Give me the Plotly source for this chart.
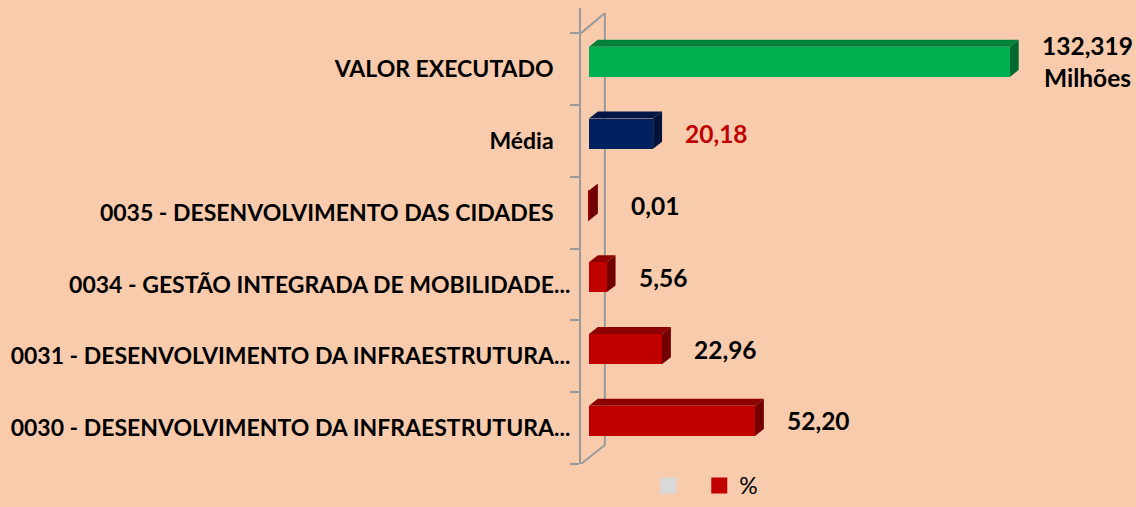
import plotly.graph_objects as go

# data, top to bottom as in the chart
categories = [
    "VALOR EXECUTADO",
    "Média",
    "0035 - DESENVOLVIMENTO DAS CIDADES",
    "0034 - GESTÃO INTEGRADA DE MOBILIDADE...",
    "0031 - DESENVOLVIMENTO DA INFRAESTRUTURA...",
    "0030 - DESENVOLVIMENTO DA INFRAESTRUTURA...",
]
values = [132.319, 20.18, 0.01, 5.56, 22.96, 52.20]
bar_colors = ["#00B050", "#002060", "#C00000", "#C00000", "#C00000", "#C00000"]
label_colors = ["black", "#C00000", "black", "black", "black", "black"]
legend_names = ["", "%"]
legend_colors = ["#D9D9D9", "#C00000"]

BG = "#F8CBAD"
WALL = "#9A9A9A"
FONT = "Lato"

n = len(categories)
pos = [n - 1 - i for i in range(n)]  # top category gets highest y

# excel leaves a gap after labels that were not cut short
tick_text = [c if c.endswith("...") else c + "\u00a0" * 3 for c in categories]

# 3d look in data units
BAR_W = 0.42
BAR_OFF = -0.11
DX = 2.8
DZ = 0.097


def shade(hex_color, k):
    h = hex_color.lstrip("#")
    r, g, b = (int(h[i:i + 2], 16) for i in (0, 2, 4))
    return "#%02x%02x%02x" % (int(r * k), int(g * k), int(b * k))


fig = go.Figure()

fig.add_trace(
    go.Bar(
        x=values,
        y=pos,
        orientation="h",
        width=BAR_W,
        offset=BAR_OFF,
        marker={"color": bar_colors, "line": {"width": 0}},
        showlegend=False,
        hoverinfo="skip",
    )
)

# legend entries only
for name, col in zip(legend_names, legend_colors):
    fig.add_trace(
        go.Scatter(x=[None], y=[None], mode="markers", name=name or " ",
                   marker={"color": col, "symbol": "square", "size": 16})
    )

shapes = []
# back wall line and its floor / ceiling diagonals
x_front, x_back = -2.5, 5.0
y_lo, y_hi = -0.5, n - 0.5
shapes.append(dict(type="line", xref="x", yref="y", x0=x_back, x1=x_back,
                   y0=y_lo + 0.265, y1=y_hi + 0.28,
                   line={"color": WALL, "width": 2}, layer="below"))
shapes.append(dict(type="line", xref="x", yref="y", x0=x_front, x1=x_back,
                   y0=y_hi, y1=y_hi + 0.28,
                   line={"color": WALL, "width": 2}, layer="below"))
shapes.append(dict(type="line", xref="x", yref="y", x0=x_front, x1=x_back,
                   y0=y_lo, y1=y_lo + 0.265,
                   line={"color": WALL, "width": 2}, layer="below"))

# top and side faces of each bar
for p, v, c in zip(pos, values, bar_colors):
    bot = p + BAR_OFF
    top = bot + BAR_W
    shapes.append(dict(
        type="path", xref="x", yref="y", layer="below",
        path=f"M 0 {top} L {DX} {top + DZ} L {v + DX} {top + DZ} L {v} {top} Z",
        fillcolor=shade(c, 0.74), line={"width": 0},
    ))
    shapes.append(dict(
        type="path", xref="x", yref="y", layer="below",
        path=f"M {v} {bot} L {v} {top} L {v + DX} {top + DZ} L {v + DX} {bot + DZ} Z",
        fillcolor=shade(c, 0.6), line={"width": 0},
    ))
fig.update_layout(shapes=shapes)

# value labels
for i, (p, v, col) in enumerate(zip(pos, values, label_colors)):
    if i == 0:
        txt = f"{v:.3f}".replace(".", ",") + "<br>Milhões"
    else:
        txt = f"{v:.2f}".replace(".", ",")
    fig.add_annotation(
        x=v, y=p + BAR_OFF + BAR_W / 2, xref="x", yref="y",
        text=txt, showarrow=False, xanchor="left", yanchor="middle",
        xshift=30 if v > 1 else 40, align="center",
        font={"family": FONT, "size": 24.5, "color": col, "weight": "bold"},
    )

fig.update_layout(
    width=1136,
    height=507,
    margin={"l": 581, "r": 0, "t": 8, "b": 43},
    paper_bgcolor=BG,
    plot_bgcolor=BG,
    bargap=0,
    xaxis={"range": [-2.5, 172], "visible": False},
    yaxis={
        "range": [-0.5, n - 0.5 + 0.35],
        "tickmode": "array",
        "tickvals": pos,
        "ticktext": tick_text,
        "ticks": "outside",
        "ticklen": 4,
        "tickcolor": BG,
        "showline": True,
        "linecolor": WALL,
        "linewidth": 2,
        "showgrid": False,
        "zeroline": False,
        "tickfont": {"family": FONT, "size": 23, "color": "black", "weight": "bold"},
        "minor": {
            "tickmode": "array",
            "tickvals": [p - 0.5 for p in range(n + 1)],
            "ticks": "outside",
            "ticklen": 9,
            "tickwidth": 2,
            "tickcolor": WALL,
            "showgrid": False,
        },
    },
    legend={
        "orientation": "h",
        "x": 0.225,
        "xanchor": "center",
        "xref": "paper",
        "y": -0.022,
        "yref": "container",
        "yanchor": "bottom",
        "font": {"family": FONT, "size": 23, "color": "black"},
        "bgcolor": "rgba(0,0,0,0)",
    },
)

fig.write_html(
    "out.html",
    config={"displayModeBar": False},
    post_script="document.body.style.margin='0';",
)
